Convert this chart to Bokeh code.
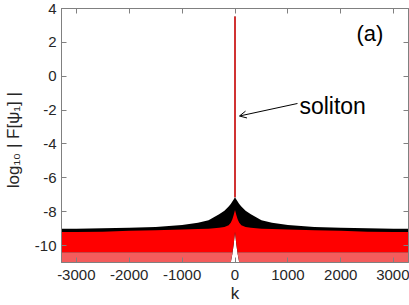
from bokeh.plotting import figure
from bokeh.models import (Range1d, LinearAxis, FixedTicker, Label, Arrow, OpenHead,
                          ColumnDataSource)
from bokeh.embed import file_html
from bokeh.resources import INLINE

# ---- data (envelopes of the two noisy spectra) ----
k = [-3280, -3000, -2500, -2000, -1500, -1000, -700, -500, -300, -200, -120, -80, -50, -25, 0,
     25, 50, 80, 120, 200, 300, 500, 700, 1000, 1500, 2000, 2500, 3000, 3280]
black_top = [-9.0, -9.0, -8.98, -8.95, -8.9, -8.78, -8.65, -8.5, -8.15, -7.95, -7.7, -7.55, -7.4, -7.28, -7.15,
             -7.28, -7.4, -7.55, -7.7, -7.95, -8.15, -8.5, -8.65, -8.78, -8.9, -8.95, -8.98, -9.0, -9.0]
red_top = [-9.2, -9.2, -9.18, -9.12, -9.1, -9.05, -9.02, -9.0, -8.95, -8.9, -8.8, -8.65, -8.45, -8.2, -7.9,
           -8.2, -8.45, -8.65, -8.8, -8.9, -8.95, -9.0, -9.02, -9.05, -9.1, -9.12, -9.18, -9.2, -9.2]
red_solid_bottom = [-10.4, -10.4, -10.4, -10.4, -10.4, -10.4, -10.4, -10.4, -10.4, -10.4, -10.4, -10.4, -10.4, -9.9, -9.2,
                    -9.9, -10.4, -10.4, -10.4, -10.4, -10.4, -10.4, -10.4, -10.4, -10.4, -10.4, -10.4, -10.4, -10.4]
floor_spikes = [-11.0, -11.0, -11.0, -11.0, -11.0, -11.0, -11.0, -11.0, -11.0, -11.0, -11.0, -11.0, -10.5, -9.95, -9.2,
                -9.95, -10.5, -11.0, -11.0, -11.0, -11.0, -11.0, -11.0, -11.0, -11.0, -11.0, -11.0, -11.0, -11.0]

spike_k = [0]
spike_top = [3.53]
spike_base = [-7.15]

x_ticks = [-3000, -2000, -1000, 0, 1000, 2000, 3000]
y_ticks = [-10, -8, -6, -4, -2, 0, 2, 4]
x_tick_labels = ["-3000", "-2000", "-1000", "0", "1000", "2000", "3000"]
y_tick_labels = ["-10", "-8", "-6", "-4", "-2", "0", "2", "4"]

FONT = "Liberation Sans"
AX = "#808080"
TXT = "#262626"

src = ColumnDataSource(dict(k=k, bt=black_top, rt=red_top, rb=red_solid_bottom, fl=floor_spikes))

p = figure(width=409, height=305, output_backend="svg", toolbar_location=None,
           x_range=Range1d(-3280, 3280), y_range=Range1d(-11, 4),
           min_border_left=55, min_border_right=1, min_border_top=8, min_border_bottom=42)
p.background_fill_color = "white"
p.border_fill_color = "white"
p.grid.visible = False
p.outline_line_color = AX
p.outline_line_width = 1

# black spectrum band
p.varea(x="k", y1="fl", y2="bt", source=src, fill_color="black")
# red spectrum: solid core and the spiky lower fringe
p.varea(x="k", y1="rb", y2="rt", source=src, fill_color="#ff0000")
p.varea(x="k", y1="fl", y2="rb", source=src, fill_color="#f45c5c")
# the soliton peak
p.segment(x0=spike_k, y0=spike_base, x1=spike_k, y1=spike_top, line_color="black", line_width=1)
p.segment(x0=spike_k, y0=spike_base, x1=spike_k, y1=spike_top, line_color="#e52020", line_width=1.6)

def style_axis(ax, labels=True):
    ax.axis_line_color = AX
    ax.major_tick_line_color = AX
    ax.major_tick_in = 5
    ax.major_tick_out = 0
    ax.minor_tick_line_color = None
    ax.major_label_text_font = FONT
    ax.major_label_text_color = TXT
    ax.major_label_text_font_size = "15px"
    ax.axis_label_text_font = FONT
    ax.axis_label_text_color = TXT
    ax.axis_label_text_font_size = "17px"
    ax.axis_label_text_font_style = "normal"
    if not labels:
        ax.major_label_text_font_size = "1px"
        ax.major_label_text_color = None
        ax.major_label_standoff = 0

p.xaxis.ticker = FixedTicker(ticks=x_ticks)
p.yaxis.ticker = FixedTicker(ticks=y_ticks)
style_axis(p.xaxis[0])
style_axis(p.yaxis[0])
p.xaxis.major_label_overrides = dict(zip(x_ticks, x_tick_labels))
p.yaxis.major_label_overrides = dict(zip(y_ticks, y_tick_labels))
p.xaxis.axis_label = "k"
p.xaxis.major_label_standoff = 7
p.xaxis.axis_label_standoff = 1
p.yaxis.axis_label = "log₁₀ |  F[ψ₁]  |"
p.yaxis.major_label_standoff = 5
p.yaxis.axis_label_standoff = 9

top_ax = LinearAxis(ticker=FixedTicker(ticks=x_ticks))
style_axis(top_ax, labels=False)
right_ax = LinearAxis(ticker=FixedTicker(ticks=y_ticks))
style_axis(right_ax, labels=False)
p.add_layout(top_ax, "above")
p.add_layout(right_ax, "right")

p.add_layout(Label(x=2296, y=2.51, text="(a)", text_font=FONT, text_font_size="22px",
                   text_color="black", text_baseline="alphabetic"))
p.add_layout(Label(x=1218, y=-1.76, text="soliton", text_font=FONT, text_font_size="23px",
                   text_color="black", text_baseline="alphabetic"))
p.add_layout(Arrow(end=OpenHead(size=7, line_width=1, line_color="black"),
                   x_start=1181, y_start=-1.61, x_end=84, y_end=-2.35,
                   line_color="black", line_width=1))

open("out.html", "w").write(file_html(p, INLINE))
